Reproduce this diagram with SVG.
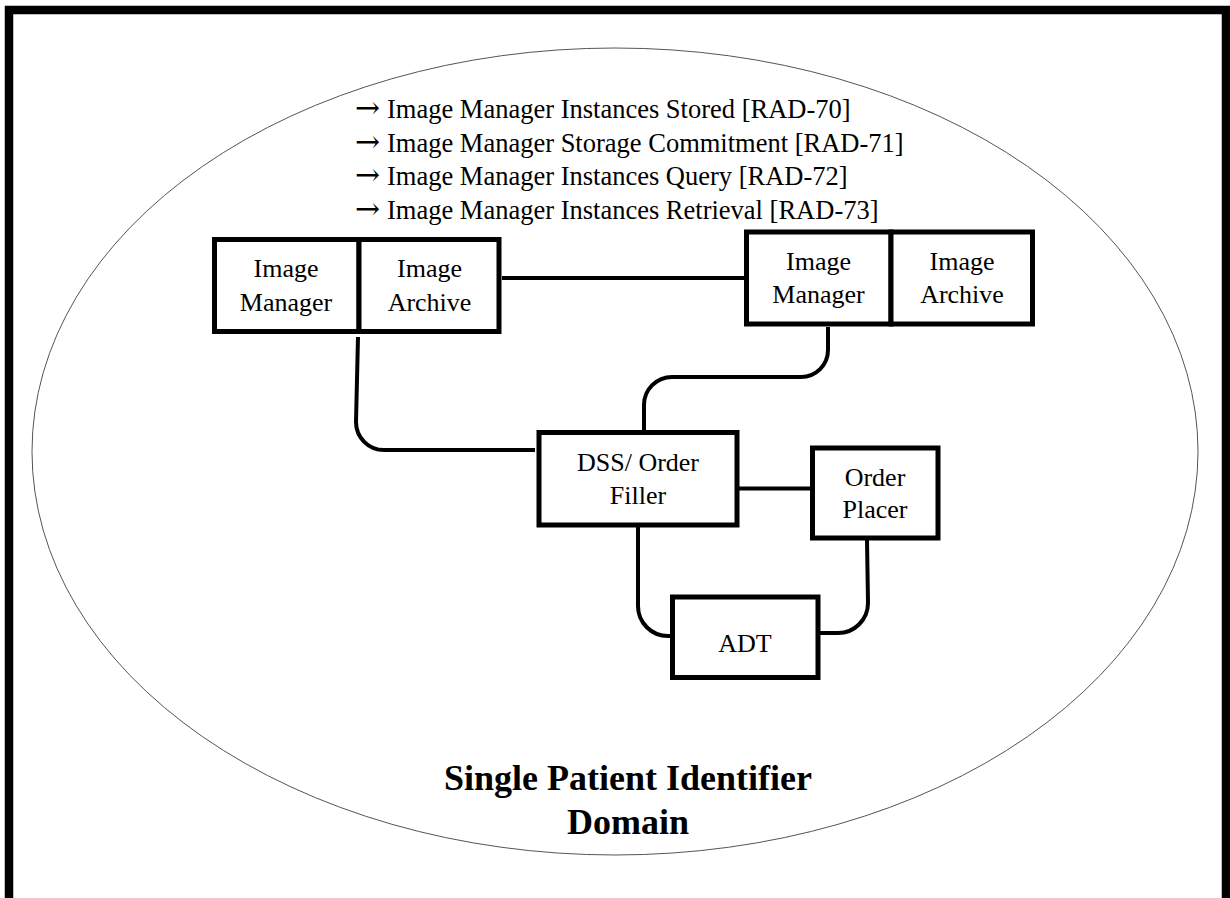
<svg xmlns="http://www.w3.org/2000/svg" width="1230" height="898" viewBox="0 0 1230 898">
<style>
.box{fill:#fff;stroke:#000;stroke-width:5}
.lbl{font-family:"Liberation Serif","Times New Roman",serif;font-size:26px;fill:#000;text-anchor:middle}
.lst{font-family:"Liberation Serif","Times New Roman",serif;font-size:26.5px;fill:#000}
.arr{font-family:"DejaVu Serif",serif;font-size:30px}
.ttl{font-family:"Liberation Serif","Times New Roman",serif;font-size:36px;font-weight:bold;fill:#000;text-anchor:middle}
.con{fill:none;stroke:#000;stroke-width:4}
</style>
<rect width="1230" height="898" fill="#fff"/>
<rect id="frame" x="9" y="10" width="1217" height="900" fill="none" stroke="#000" stroke-width="8.5"/>
<g id="domain">
<ellipse cx="615" cy="451.5" rx="583" ry="403.5" fill="none" stroke="#555" stroke-width="1"/>
<text class="ttl" x="628" y="790">Single Patient Identifier</text>
<text class="ttl" x="628" y="834">Domain</text>
</g>
<g id="transactions" class="lst">
<text x="355" y="118"><tspan class="arr">→</tspan><tspan x="387">Image Manager Instances Stored [RAD-70]</tspan></text>
<text x="355" y="151.5"><tspan class="arr">→</tspan><tspan x="387">Image Manager Storage Commitment [RAD-71]</tspan></text>
<text x="355" y="185"><tspan class="arr">→</tspan><tspan x="387">Image Manager Instances Query [RAD-72]</tspan></text>
<text x="355" y="218.5"><tspan class="arr">→</tspan><tspan x="387">Image Manager Instances Retrieval [RAD-73]</tspan></text>
</g>
<g id="connectors">
<path class="con" d="M502,278 L744,278"/>
<path class="con" d="M358,337 L356,422 A28,28 0 0 0 384,450 L535,450"/>
<path class="con" d="M828,327 L828,350 A27,27 0 0 1 801,377 L672,377 A28,28 0 0 0 644,405 L644,431"/>
<path class="con" d="M739,488.5 L811,488.5"/>
<path class="con" d="M638,527 L638,606 A30,30 0 0 0 668,636 L671,636"/>
<path class="con" d="M867,540 L868,603 A30,30 0 0 1 838,633 L819,633"/>
</g>
<g id="left-image-manager">
<rect class="box" x="214.5" y="239.5" width="144.5" height="92"/>
<text class="lbl" x="286" y="277">Image</text>
<text class="lbl" x="286" y="311">Manager</text>
</g>
<g id="left-image-archive">
<rect class="box" x="359" y="239.5" width="140" height="92"/>
<text class="lbl" x="429.5" y="277">Image</text>
<text class="lbl" x="429.5" y="311">Archive</text>
</g>
<g id="right-image-manager">
<rect class="box" x="746.5" y="232" width="144.5" height="92"/>
<text class="lbl" x="818.5" y="270">Image</text>
<text class="lbl" x="818.5" y="303">Manager</text>
</g>
<g id="right-image-archive">
<rect class="box" x="891" y="232" width="141.5" height="92"/>
<text class="lbl" x="962" y="270">Image</text>
<text class="lbl" x="962" y="303">Archive</text>
</g>
<g id="dss-order-filler">
<rect class="box" x="539" y="432.5" width="198" height="92.5"/>
<text class="lbl" x="638" y="471">DSS/ Order</text>
<text class="lbl" x="638" y="503.5">Filler</text>
</g>
<g id="order-placer">
<rect class="box" x="812.5" y="448" width="125.5" height="90"/>
<text class="lbl" x="875" y="486">Order</text>
<text class="lbl" x="875" y="517.5">Placer</text>
</g>
<g id="adt">
<rect class="box" x="672.5" y="597" width="145.5" height="80.5"/>
<text class="lbl" x="745" y="652">ADT</text>
</g>
</svg>
